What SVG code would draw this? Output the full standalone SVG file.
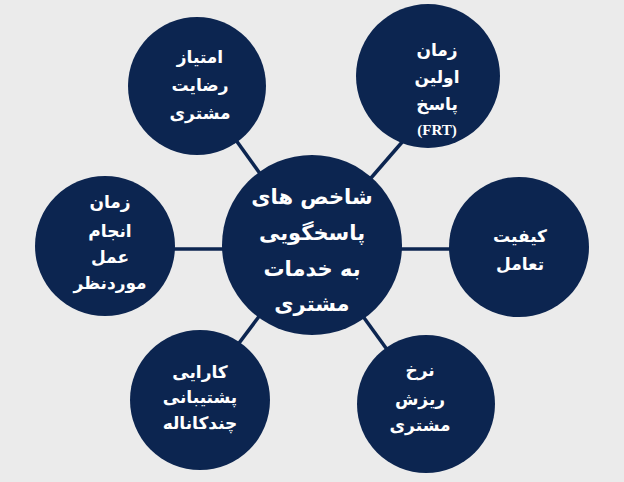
<svg xmlns="http://www.w3.org/2000/svg" width="624" height="482" viewBox="0 0 624 482">
<style>
.bg{fill:#ebebeb}
.node{fill:#0c2550}
.conn{stroke:#0c2550;stroke-width:3.5;fill:none}
.t{fill:#ffffff;font-family:"DejaVu Sans",sans-serif;font-weight:bold;font-size:17px;text-anchor:middle;direction:rtl}
.tc{fill:#ffffff;font-family:"DejaVu Sans",sans-serif;font-weight:bold;font-size:21px;text-anchor:middle;direction:rtl}
.ts{fill:#ffffff;font-family:"Liberation Serif",serif;font-weight:bold;font-size:15px;text-anchor:middle}
</style>
<rect class="bg" x="0" y="0" width="624" height="482"/>
<g id="connectors">
<line class="conn" x1="312" y1="246" x2="197" y2="86"/>
<line class="conn" x1="312" y1="246" x2="410" y2="133"/>
<line class="conn" x1="312" y1="249" x2="105" y2="249"/>
<line class="conn" x1="312" y1="249" x2="519" y2="249"/>
<line class="conn" x1="312" y1="246" x2="200" y2="395"/>
<line class="conn" x1="312" y1="246" x2="420" y2="395"/>
</g>
<g id="center">
<circle class="node" cx="312" cy="245" r="90"/>
<text class="tc" x="312" y="204">شاخص های</text>
<text class="tc" x="312" y="240">پاسخگویی</text>
<text class="tc" x="312" y="276">به خدمات</text>
<text class="tc" x="312" y="311">مشتری</text>
</g>
<g id="n-satisfaction">
<circle class="node" cx="197" cy="86" r="69"/>
<text class="t" x="200" y="63">امتیاز</text>
<text class="t" x="200" y="91">رضایت</text>
<text class="t" x="200" y="119">مشتری</text>
</g>
<g id="n-frt">
<circle class="node" cx="428" cy="76" r="72"/>
<text class="t" x="437" y="56">زمان</text>
<text class="t" x="437" y="83">اولین</text>
<text class="t" x="437" y="110">پاسخ</text>
<text class="ts" x="437" y="135">(FRT)</text>
</g>
<g id="n-time">
<circle class="node" cx="105" cy="246" r="70"/>
<text class="t" x="110" y="208">زمان</text>
<text class="t" x="110" y="237">انجام</text>
<text class="t" x="110" y="263">عمل</text>
<text class="t" x="110" y="289">موردنظر</text>
</g>
<g id="n-quality">
<circle class="node" cx="519" cy="247" r="70"/>
<text class="t" x="520" y="242">کیفیت</text>
<text class="t" x="520" y="270">تعامل</text>
</g>
<g id="n-omni">
<circle class="node" cx="200" cy="400" r="70"/>
<text class="t" x="200" y="378">کارایی</text>
<text class="t" x="200" y="403">پشتیبانی</text>
<text class="t" x="200" y="429">چندکاناله</text>
</g>
<g id="n-churn">
<circle class="node" cx="426" cy="404" r="69"/>
<text class="t" x="420" y="376">نرخ</text>
<text class="t" x="420" y="405">ریزش</text>
<text class="t" x="420" y="431">مشتری</text>
</g>
</svg>
